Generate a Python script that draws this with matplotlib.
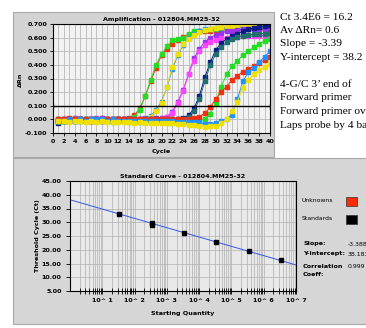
import numpy as np
import matplotlib
matplotlib.use('Agg')
import matplotlib.pyplot as plt
from matplotlib.patches import Rectangle

# amplification data, cycles 1..40
cycles = list(range(1, 41))
red1 = [-0.01, 0.0, 0.0, 0.01, 0.0, 0.0, -0.01, 0.0, 0.01, 0.0, 0.0, 0.0, 0.0, 0.01, 0.03, 0.08, 0.17, 0.28, 0.38, 0.47,
        0.52, 0.555, 0.585, 0.605, 0.62, 0.64, 0.645, 0.65, 0.65, 0.655, 0.655, 0.66, 0.66, 0.66, 0.66, 0.66, 0.66, 0.66, 0.66, 0.66]
green1 = [0.0, -0.01, 0.0, 0.0, -0.01, 0.0, 0.0, -0.01, 0.0, -0.01, 0.0, -0.01, 0.0, 0.0, 0.02, 0.07, 0.17, 0.29, 0.40, 0.48,
          0.535, 0.58, 0.59, 0.60, 0.63, 0.645, 0.65, 0.655, 0.66, 0.66, 0.665, 0.665, 0.665, 0.67, 0.67, 0.67, 0.67, 0.67, 0.67, 0.67]
blue2 = [-0.01, 0.0, 0.0, -0.01, 0.0, 0.0, 0.0, 0.0, 0.0, -0.01, 0.0, 0.0, 0.0, 0.0, 0.0, 0.0, 0.01, 0.025, 0.07, 0.13,
         0.235, 0.37, 0.47, 0.545, 0.595, 0.625, 0.645, 0.66, 0.665, 0.67, 0.675, 0.675, 0.68, 0.68, 0.68, 0.68, 0.685, 0.685, 0.685, 0.685]
yellow2 = [-0.01, -0.01, 0.0, 0.0, -0.01, -0.01, 0.0, -0.01, -0.01, 0.0, 0.0, -0.01, -0.01, 0.0, -0.01, -0.01, 0.0, 0.02, 0.06, 0.12,
           0.24, 0.385, 0.48, 0.55, 0.59, 0.62, 0.64, 0.655, 0.665, 0.67, 0.675, 0.68, 0.68, 0.685, 0.685, 0.685, 0.69, 0.69, 0.69, 0.69]
purple3 = [-0.01, 0.0, -0.01, 0.0, 0.0, -0.01, 0.0, 0.0, 0.01, 0.0, -0.01, 0.0, 0.0, 0.0, -0.01, 0.0, 0.0, 0.0, 0.01, 0.01,
           0.02, 0.055, 0.13, 0.215, 0.335, 0.45, 0.52, 0.57, 0.60, 0.62, 0.635, 0.645, 0.65, 0.655, 0.66, 0.66, 0.665, 0.665, 0.665, 0.665]
magenta3 = [0.0, 0.0, -0.01, 0.01, 0.0, -0.01, -0.01, 0.01, 0.0, 0.0, 0.0, 0.0, -0.01, 0.0, 0.0, -0.01, 0.0, 0.0, 0.0, 0.01,
            0.02, 0.05, 0.12, 0.21, 0.33, 0.43, 0.50, 0.545, 0.57, 0.585, 0.595, 0.60, 0.605, 0.605, 0.61, 0.61, 0.61, 0.615, 0.615, 0.615]
navy4 = [-0.03, -0.01, -0.01, 0.0, 0.0, -0.01, 0.0, 0.0, -0.01, 0.0, -0.01, 0.0, 0.0, 0.0, -0.01, -0.01, 0.0, 0.0, 0.0, 0.0,
         0.0, 0.0, 0.005, 0.01, 0.03, 0.08, 0.175, 0.31, 0.42, 0.51, 0.56, 0.59, 0.61, 0.63, 0.645, 0.66, 0.67, 0.68, 0.685, 0.69]
teal4 = [-0.02, -0.01, 0.0, -0.01, 0.0, 0.0, -0.01, 0.0, 0.0, -0.01, 0.0, 0.0, -0.01, 0.0, 0.0, 0.0, -0.01, 0.0, 0.0, 0.0,
         0.0, 0.0, 0.0, 0.005, 0.02, 0.06, 0.15, 0.28, 0.40, 0.48, 0.53, 0.565, 0.59, 0.605, 0.615, 0.62, 0.625, 0.63, 0.63, 0.635]
green5 = [0.0, -0.01, -0.01, 0.0, -0.01, -0.01, 0.0, -0.01, -0.01, -0.01, -0.02, -0.01, -0.01, -0.02, -0.02, -0.02, -0.02, -0.02, -0.02, -0.02,
          -0.02, -0.025, -0.02, -0.02, -0.02, -0.015, -0.01, 0.005, 0.04, 0.12, 0.24, 0.33, 0.39, 0.43, 0.47, 0.50, 0.53, 0.555, 0.575, 0.59]
red5 = [0.0, 0.0, 0.01, 0.0, 0.0, 0.0, 0.0, 0.0, 0.0, 0.0, 0.0, 0.0, 0.0, 0.0, 0.0, 0.0, 0.0, 0.0, 0.0, 0.0,
        0.0, 0.0, 0.0, 0.0, 0.005, 0.01, 0.02, 0.045, 0.09, 0.15, 0.20, 0.24, 0.29, 0.32, 0.35, 0.37, 0.39, 0.415, 0.435, 0.455]
blue6 = [-0.01, -0.01, 0.0, -0.01, 0.0, -0.01, 0.0, 0.0, 0.0, -0.01, 0.0, -0.01, -0.01, -0.01, -0.01, -0.01, -0.01, -0.01, -0.01, -0.015,
         -0.01, -0.015, -0.02, -0.02, -0.02, -0.02, -0.02, -0.035, -0.035, -0.03, -0.015, 0.005, 0.035, 0.15, 0.28, 0.345, 0.38, 0.42, 0.46, 0.50]
yellow6 = [-0.01, -0.01, -0.02, -0.01, -0.01, -0.02, -0.01, -0.02, -0.01, -0.02, -0.02, -0.02, -0.02, -0.02, -0.03, -0.02, -0.03, -0.03, -0.03, -0.03,
           -0.03, -0.03, -0.035, -0.035, -0.04, -0.04, -0.045, -0.055, -0.05, -0.045, -0.03, 0.0, 0.06, 0.13, 0.23, 0.29, 0.33, 0.36, 0.385, 0.41]

series = [
    (red1, '#f03010'), (green1, '#22dd22'),
    (blue2, '#1e90ff'), (yellow2, '#f0e000'),
    (purple3, '#9933ee'), (magenta3, '#ff44ff'),
    (navy4, '#0a1a88'), (teal4, '#1f6f6f'),
    (green5, '#22dd22'), (red5, '#f03010'),
    (blue6, '#1e90ff'), (yellow6, '#f0e000'),
]
threshold = 0.1

# standard curve
quantities = [3.4e1, 3.4e2, 3.4e2, 3.4e3, 3.4e4, 3.4e5, 3.4e6]
ct_values = [33.1, 29.7, 29.1, 26.1, 22.7, 19.4, 16.2]
slope = -3.388
intercept = 38.183

side_notes = ['Ct 3.4E6 = 16.2', 'Av \u0394Rn= 0.6', 'Slope = -3.39', 'Y-intercept = 38.2', '',
              '4-G/C 3\u2019 end of', 'Forward primer', 'Forward primer overlaps', 'Laps probe by 4 bases']

W, H = 366, 328
fig = plt.figure(figsize=(W / 100, H / 100), dpi=100)
fig.patch.set_facecolor('white')

def fx(px):
    return px / W

def fy(py):
    return 1 - py / H

small = dict(fontsize=4.6, fontweight='bold', family='DejaVu Sans')

# panel backgrounds
fig.patches.append(Rectangle((fx(13), fy(157)), fx(261), 145 / H, transform=fig.transFigure,
                             facecolor='#d3d3d3', edgecolor='#a8a8a8', lw=0.8, zorder=-5))
fig.patches.append(Rectangle((fx(13), fy(324)), fx(360), 166 / H, transform=fig.transFigure,
                             facecolor='#d6d6d6', edgecolor='#a8a8a8', lw=0.8, zorder=-5))

# amplification plot
ax = fig.add_axes([fx(53), fy(133), fx(217), 109 / H])
ax.set_facecolor('#f2f2f2')
for vals, col in series:
    ax.plot(cycles, vals, color=col, lw=0.7, marker='s', ms=2.2, mec=col, mfc=col)
ax.plot([0, 40], [threshold, threshold], color='black', lw=1.0, marker='|', ms=4, mew=1)
ax.set_xlim(0, 40)
ax.set_ylim(-0.1, 0.7)
ax.set_xticks(range(0, 41, 2))
ax.set_xticks(range(0, 41, 1), minor=True)
ax.set_yticks(np.arange(-0.1, 0.71, 0.1))
ax.set_yticklabels(['%.3f' % v for v in np.arange(-0.1, 0.71, 0.1)])
ax.grid(True, which='both', axis='x', color='#b8b8b8', lw=0.6)
ax.grid(True, which='major', axis='y', color='#b8b8b8', lw=0.6)
ax.tick_params(labelsize=4.6, length=2, width=0.6, pad=2)
ax.tick_params(which='minor', length=0)
for lab in ax.get_xticklabels() + ax.get_yticklabels():
    lab.set_fontweight('bold')
for s in ax.spines.values():
    s.set_linewidth(0.8)
ax.set_title('Amplification - 012804.MM25-32', pad=2, **small)
fig.text(fx(20), fy(80), '\u0394Rn', rotation=90, ha='center', va='center', **small)
fig.text(fx(161), fy(152), 'Cycle', ha='center', va='center', **small)

# side notes
for i, line in enumerate(side_notes):
    fig.text(fx(280), fy(17 + i * 13.5), line, ha='left', va='center',
             fontsize=8.2, family='Liberation Serif')

# standard curve plot
bx = fig.add_axes([fx(70), fy(291), fx(226), 110 / H])
bx.set_facecolor('#e9e9e9')
bx.set_xscale('log')
bx.set_xlim(1, 1e7)
bx.set_ylim(5, 45)
qline = np.array([1, 1e7])
bx.plot(qline, slope * np.log10(qline) + intercept, color='#3355ee', lw=0.7)
bx.plot(quantities, ct_values, 's', color='black', ms=3)
bx.set_xticks([10 ** k for k in range(1, 8)])
bx.set_xticklabels(['10^ %d' % k for k in range(1, 8)])
bx.set_yticks(range(5, 46, 5))
bx.set_yticklabels(['%.2f' % v for v in range(5, 46, 5)])
bx.grid(True, which='both', axis='x', color='#b0b0b0', lw=0.5)
bx.grid(True, which='major', axis='y', color='#b0b0b0', lw=0.5)
bx.tick_params(labelsize=4.6, length=3, width=0.6, pad=3)
bx.tick_params(axis='x', which='both', direction='inout', length=4)
for lab in bx.get_xticklabels() + bx.get_yticklabels():
    lab.set_fontweight('bold')
for s in bx.spines.values():
    s.set_linewidth(0.8)
bx.set_title('Standard Curve - 012804.MM25-32', pad=2, **small)
fig.text(fx(38), fy(236), 'Threshold Cycle (Ct)', rotation=90, ha='center', va='center', **small)
fig.text(fx(183), fy(313), 'Starting Quantity', ha='center', va='center', **small)

# legend and fit stats
fig.text(fx(302), fy(201), 'Unknowns', ha='left', va='center', fontsize=4.4, family='DejaVu Sans')
fig.text(fx(302), fy(219), 'Standards', ha='left', va='center', fontsize=4.4, family='DejaVu Sans')
fig.patches.append(Rectangle((fx(346), fy(206)), fx(11), 9 / H, transform=fig.transFigure,
                             facecolor='#ff2a00', edgecolor='#333333', lw=0.5))
fig.patches.append(Rectangle((fx(346), fy(224)), fx(11), 9 / H, transform=fig.transFigure,
                             facecolor='black', edgecolor='#333333', lw=0.5))
fig.text(fx(303), fy(244), 'Slope:', ha='left', va='center', **small)
fig.text(fx(303), fy(254), 'Y-Intercept:', ha='left', va='center', **small)
fig.text(fx(303), fy(267), 'Correlation', ha='left', va='center', **small)
fig.text(fx(303), fy(274), 'Coeff:', ha='left', va='center', **small)
fig.text(fx(348), fy(244), '%.3f' % slope, ha='left', va='center', fontsize=4.4, family='DejaVu Sans')
fig.text(fx(348), fy(254), '%.3f' % intercept, ha='left', va='center', fontsize=4.4, family='DejaVu Sans')
fig.text(fx(348), fy(267), '0.999', ha='left', va='center', fontsize=4.4, family='DejaVu Sans')

fig.savefig('out.png', dpi=100)
